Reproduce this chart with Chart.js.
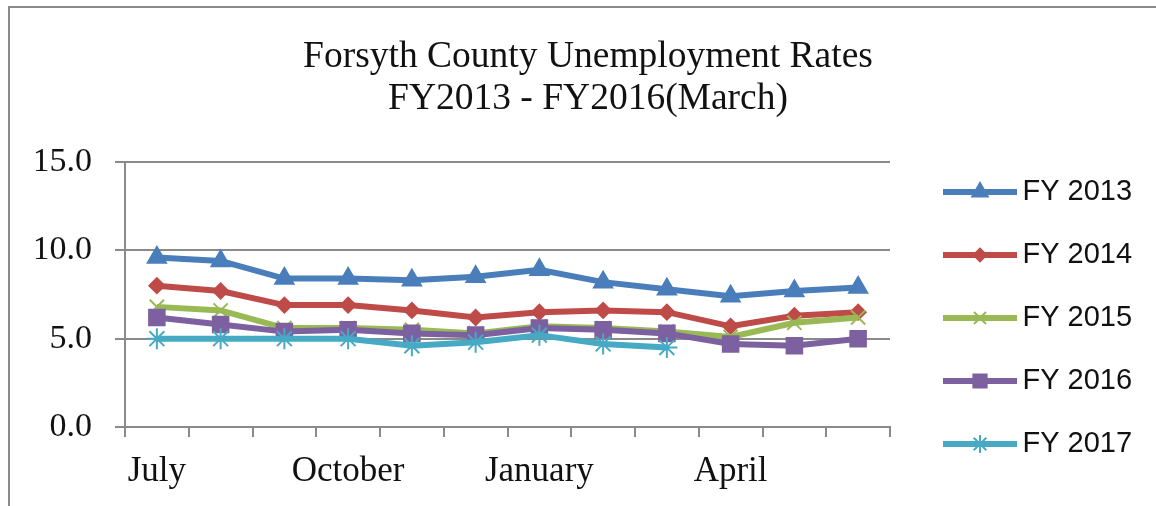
<!DOCTYPE html>
<html>
<head>
<meta charset="utf-8">
<script src="https://cdn.jsdelivr.net/npm/chart.js@4"></script>
<style>
  html, body { margin: 0; padding: 0; background: #fff; }
  #wrap { position: relative; width: 1156px; height: 506px; overflow: hidden; }
  #frame { position: absolute; left: 8px; top: 6px; width: 1300px; height: 700px; border: 2px solid #8a8a8a; box-sizing: border-box; }
  canvas { position: absolute; left: 0; top: 0; }
</style>
</head>
<body>
<div id="wrap"><div id="frame"></div><canvas id="c" width="1156" height="506"></canvas></div>
<script>
const categories = ['July','August','September','October','November','December','January','February','March','April','May','June'];
const shownTicks = ['July','October','January','April'];
const fy2013 = [9.6, 9.4, 8.4, 8.4, 8.3, 8.5, 8.9, 8.2, 7.8, 7.4, 7.7, 7.9];
const fy2014 = [8.0, 7.7, 6.9, 6.9, 6.6, 6.2, 6.5, 6.6, 6.5, 5.7, 6.3, 6.5];
const fy2015 = [6.8, 6.6, 5.6, 5.6, 5.5, 5.3, 5.7, 5.6, 5.4, 5.1, 5.9, 6.2];
const fy2016 = [6.2, 5.8, 5.4, 5.5, 5.3, 5.2, 5.6, 5.5, 5.3, 4.7, 4.6, 5.0];
const fy2017 = [5.0, 5.0, 5.0, 5.0, 4.6, 4.8, 5.2, 4.7, 4.5, null, null, null];
const seriesNames = ['FY 2013','FY 2014','FY 2015','FY 2016','FY 2017'];
const yTicks = [0, 5, 10, 15];

const colors = ['#4A7EBB', '#BE4B48', '#98B954', '#7D60A0', '#46AAC5'];
const styles = [
  {pointStyle: 'triangle', radius: 10.5},
  {pointStyle: 'rectRot', radius: 7.5},
  {pointStyle: 'crossRot', radius: 10},
  {pointStyle: 'rect', radius: 11},
  {pointStyle: 'star', radius: 10.5}
];
const values = [fy2013, fy2014, fy2015, fy2016, fy2017];

function legendImage(i) {
  const cv = document.createElement('canvas');
  cv.width = 110; cv.height = 30;
  const ctx = cv.getContext('2d');
  const x0 = 32, x1 = 106;
  ctx.strokeStyle = colors[i];
  ctx.fillStyle = colors[i];
  ctx.lineWidth = 6;
  ctx.beginPath(); ctx.moveTo(x0, 15); ctx.lineTo(x1, 15); ctx.stroke();
  ctx.lineWidth = 2;
  Chart.helpers.drawPoint(ctx, {pointStyle: styles[i].pointStyle, radius: styles[i].radius * 0.85, rotation: 0, borderWidth: 2}, (x0 + x1) / 2, 15);
  return cv;
}
const legendImages = values.map((v, i) => legendImage(i));

const datasets = values.map((v, i) => ({
  label: seriesNames[i],
  data: v,
  borderColor: colors[i],
  backgroundColor: colors[i],
  borderWidth: 6,
  pointStyle: styles[i].pointStyle,
  pointRadius: styles[i].radius,
  pointBorderWidth: 2,
  pointBackgroundColor: colors[i],
  pointBorderColor: colors[i],
  tension: 0,
  spanGaps: false,
  order: 5 - i
}));

new Chart(document.getElementById('c'), {
  type: 'line',
  data: { labels: categories, datasets },
  options: {
    responsive: false,
    animation: false,
    events: [],
    layout: { padding: { left: 36, right: 16, top: 0, bottom: 0 } },
    plugins: {
      tooltip: { enabled: false },
      title: {
        display: true,
        text: ['Forsyth County Unemployment Rates', 'FY2013 - FY2016(March)'],
        color: '#111',
        font: { family: 'Liberation Serif', size: 37.5, weight: 'normal', lineHeight: 1.13 },
        padding: { top: 35.8, bottom: 41.4 }
      },
      legend: {
        position: 'right',
        align: 'start',
        maxWidth: 250,
        title: { display: true, text: ' ', font: { size: 1, lineHeight: 1 }, padding: { top: 142.5, bottom: 0 } },
        labels: {
          usePointStyle: true,
          pointStyleWidth: 84,
          padding: 34,
          color: '#111',
          font: { family: 'Liberation Sans', size: 29 },
          sort: (a, b) => a.datasetIndex - b.datasetIndex,
          generateLabels: (chart) => {
            const items = Chart.defaults.plugins.legend.labels.generateLabels(chart);
            items.forEach(it => { it.pointStyle = legendImages[it.datasetIndex]; });
            items.sort((a, b) => a.datasetIndex - b.datasetIndex);
            return items;
          }
        }
      }
    },
    scales: {
      x: {
        offset: true,
        grid: { offset: true, drawOnChartArea: false, drawTicks: true, tickLength: 10, color: '#8a8a8a', lineWidth: 2 },
        border: { display: true, color: '#8a8a8a', width: 2 },
        ticks: {
          autoSkip: false, maxRotation: 0, padding: 14, color: '#111',
          font: { family: 'Liberation Serif', size: 35, lineHeight: 1.17 },
          callback: function(value) { const l = this.getLabelForValue(value); return shownTicks.includes(l) ? l : ''; }
        }
      },
      y: {
        min: 0, max: 15,
        afterBuildTicks: (axis) => { axis.ticks = yTicks.map(v => ({ value: v })); },
        afterFit: (axis) => { axis.width = 89; },
        grid: { drawTicks: true, tickLength: 10, color: '#8a8a8a', lineWidth: 2 },
        border: { display: true, color: '#8a8a8a', width: 2 },
        ticks: {
          padding: 23, color: '#111',
          font: { family: 'Liberation Serif', size: 34 },
          callback: (v) => Number(v).toFixed(1)
        }
      }
    }
  }
});
</script>
</body>
</html>
